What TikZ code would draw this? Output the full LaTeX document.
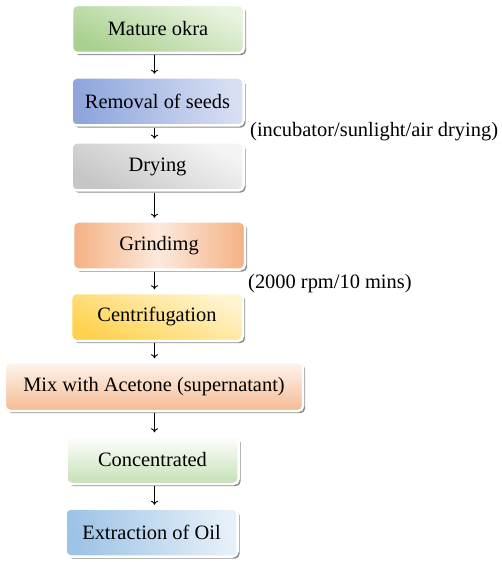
\documentclass[tikz,border=0pt]{standalone}
\usepackage{fontspec}
\setmainfont{Liberation Serif}
\usetikzlibrary{shadows,arrows.meta}
\definecolor{gA}{HTML}{A9D08E}\definecolor{gB}{HTML}{E8F3E0}
\definecolor{bA}{HTML}{8EA6DC}\definecolor{bB}{HTML}{D8DFF3}
\definecolor{yA}{HTML}{C6C6C6}\definecolor{yB}{HTML}{F4F4F4}
\definecolor{oA}{HTML}{F4B183}\definecolor{oB}{HTML}{FCE9DC}
\definecolor{uA}{HTML}{FFD24D}\definecolor{uB}{HTML}{FFF4D0}
\definecolor{pA}{HTML}{F5BA92}\definecolor{pB}{HTML}{FEF5EF}
\definecolor{cA}{HTML}{C5E0B4}\definecolor{cB}{HTML}{FFFFFF}
\definecolor{eA}{HTML}{9DC3E6}\definecolor{eB}{HTML}{E6F0F9}
\tikzset{
  stepbox/.style={rounded corners=5bp, draw=white, line width=2.5bp,
    minimum width=172bp, minimum height=48bp, inner sep=0pt,
    font=\fontsize{20.5}{24}\selectfont,
    drop shadow={shadow xshift=2.2bp, shadow yshift=-2.2bp, fill=black!45, opacity=1}},
  note/.style={anchor=west, inner sep=0pt, font=\fontsize{20.5}{24}\selectfont},
  arr/.style={line width=0.9bp, -{To[length=4bp,width=7bp]}, shorten <=1bp, shorten >=2.5bp}
}
\begin{document}
\begin{tikzpicture}[x=1bp,y=-1bp]
\useasboundingbox (0,0) rectangle (502,562);
\coordinate (axis) at (154.5,0);
\node[stepbox, bottom color=gA, top color=gB, shading angle=-25] (b1) at (158,29) {Mature okra};
\node[stepbox, left color=bA, right color=bB, shading angle=100] (b2) at (157.5,101.5) {Removal of seeds};
\node[stepbox, bottom color=yA, top color=yB, shading angle=-30] (b3) at (157.5,166.5) {Drying};
\node[stepbox, left color=oA, right color=oA, middle color=oB] (b4) at (159,245.5) {Grindimg};
\node[stepbox, bottom color=uA, top color=uB, shading angle=-25] (b5) at (157,317) {Centrifugation};
\node[stepbox, minimum width=298bp, minimum height=49bp, bottom color=pA, top color=pB] (b6) at (154,386.5) {Mix with Acetone (supernatant)};
\node[stepbox, bottom color=cA, top color=cB] (b7) at (152.5,460) {Concentrated};
\node[stepbox, left color=eA, right color=eB, shading angle=100] (b8) at (151.5,532.5) {Extraction of Oil};
\node[note] (l1) at (250,132) {(incubator/sunlight/air drying)};
\node[note] (l2) at (248,284) {(2000 rpm/10 mins)};
\foreach \a/\b in {b1/b2,b2/b3,b3/b4,b4/b5,b5/b6,b6/b7,b7/b8}
  \draw[arr] (\a.south -| axis) -- (\b.north -| axis);
\end{tikzpicture}
\end{document}
